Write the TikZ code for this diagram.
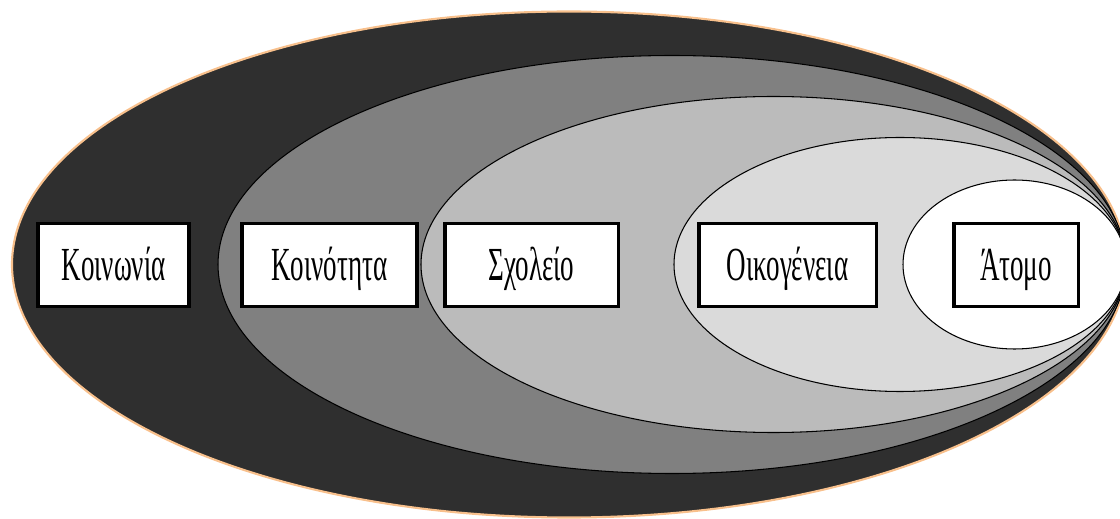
\documentclass[tikz,border=0pt]{standalone}
\usepackage{fontspec}
\newfontfamily\greekfont[FakeStretch=0.57]{Liberation Serif}
\definecolor{rimpeach}{RGB}{248,192,140}
\definecolor{societygray}{RGB}{47,47,47}
\definecolor{communitygray}{RGB}{128,128,128}
\definecolor{schoolgray}{RGB}{187,187,187}
\definecolor{familygray}{RGB}{218,218,218}

\begin{document}
\begin{tikzpicture}[
    ring/.style={draw=black, line width=0.6pt},
    level/.style={draw, line width=2pt, fill=white, inner sep=0pt,
        minimum height=1.66cm, text height=18pt, text depth=0pt,
        font=\greekfont\fontsize{27}{30}\selectfont}
]
\useasboundingbox (0,0) rectangle (22.4,10.36);

% Nested rings
\draw[ring, draw=rimpeach, line width=1.2pt, fill=societygray] (11.38,5.07) ellipse (11.14 and 5.06);
\draw[ring, fill=communitygray] (13.44,5.07) ellipse (9.08 and 4.18);
\draw[ring, fill=schoolgray] (15.47,5.07) ellipse (7.05 and 3.36);
\draw[ring, fill=familygray] (18.0,5.07) ellipse (4.52 and 2.54);
\draw[ring, fill=white] (20.29,5.07) ellipse (2.23 and 1.69);

% Labels
\node[level, minimum width=3.03cm] (society) at (2.27,5.06) {Κοινωνία};
\node[level, minimum width=3.51cm] (community) at (6.59,5.06) {Κοινότητα};
\node[level, minimum width=3.47cm] (school) at (10.63,5.06) {Σχολείο};
\node[level, minimum width=3.55cm] (family) at (15.75,5.06) {Οικογένεια};
\node[level, minimum width=2.49cm] (person) at (20.32,5.06) {Άτομο};

\end{tikzpicture}
\end{document}
